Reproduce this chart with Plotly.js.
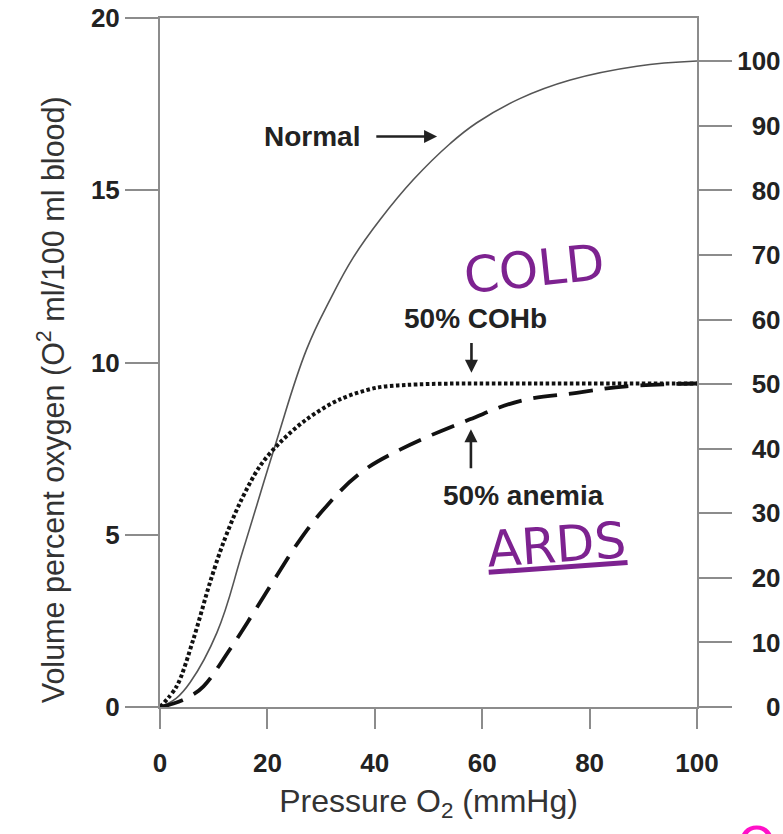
<!DOCTYPE html>
<html>
<head>
<meta charset="utf-8">
<script src="https://cdn.plot.ly/plotly-3.0.1.min.js"></script>
<style>html,body{margin:0;padding:0;background:#fff;}#chart{width:783px;height:834px;}</style>
</head>
<body>
<div id="chart"></div>
<script>
// Pressure O2 (mmHg) and volume percent oxygen for each curve
const normalX = [0, 3, 5.6, 10.6, 15.5, 21.4, 27.3, 31.7, 36, 41, 47.2, 54, 59, 67, 76.4, 88.8, 100];
const normalY = [0, 0.25, 0.71, 2.16, 4.57, 7.57, 10.38, 11.83, 13.05, 14.15, 15.31, 16.35, 16.96, 17.66, 18.2, 18.6, 18.75];

const cohbX = [0, 3.1, 6.2, 9.3, 11.8, 14.9, 18.6, 22.3, 27.3, 33.5, 40.4, 46, 55, 70, 85, 100];
const cohbY = [0, 0.6, 1.96, 3.61, 4.77, 5.93, 6.99, 7.67, 8.35, 8.93, 9.27, 9.35, 9.39, 9.39, 9.39, 9.39];

const anemiaX = [0, 2.5, 5.6, 8.1, 13, 17.4, 21.7, 26.1, 31, 37.2, 44.7, 57.7, 67, 77.6, 86.9, 100];
const anemiaY = [0, 0.1, 0.31, 0.6, 1.67, 2.73, 3.8, 4.86, 5.83, 6.78, 7.47, 8.35, 8.88, 9.12, 9.31, 9.39];

const xTicks = [0, 20, 40, 60, 80, 100];
const yTicks = [0, 5, 10, 15, 20];
const satTicks = [0, 10, 20, 30, 40, 50, 60, 70, 80, 90, 100];
const satLabels = ['\u2007\u20070', '\u200710', '\u200720', '\u200730', '\u200740', '\u200750', '\u200760', '\u200770', '\u200780', '\u200790', '100'];

const FONT = 'Liberation Sans, Arial, Helvetica, sans-serif';
const AXC = '#8c8c8c';

const traces = [
  {x: normalX, y: normalY, mode: 'lines', line: {color: '#555', width: 1.6, shape: 'spline', smoothing: 1.2}, hoverinfo: 'skip'},
  {x: cohbX, y: cohbY, mode: 'lines', line: {color: '#111', width: 4, dash: '3.5px,2.5px', shape: 'spline', smoothing: 0.9}, hoverinfo: 'skip'},
  {x: anemiaX, y: anemiaY, mode: 'lines', line: {color: '#111', width: 3.8, dash: '24px,12px', shape: 'spline', smoothing: 1.1}, hoverinfo: 'skip'},
  // empty trace so that the right-hand saturation axis is drawn
  {x: [], y: [], yaxis: 'y2', mode: 'lines', hoverinfo: 'skip'}
];

const tickFont = {family: FONT, size: 26, color: '#222', weight: 'bold'};
const annFont = {family: FONT, size: 28, color: '#222', weight: 'bold'};
const handFont = {family: 'DejaVu Sans, sans-serif', size: 50, color: '#7d2290'};

const arrow = (x, y, ax, ay) => ({x: x, y: y, ax: ax, ay: ay, xref: 'x', yref: 'y', axref: 'x', ayref: 'y', text: '', showarrow: true, arrowhead: 2, arrowsize: 1, arrowwidth: 2.6, arrowcolor: '#222'});

const layout = {
  width: 783, height: 834,
  margin: {l: 160, r: 86, t: 18, b: 127},
  paper_bgcolor: '#fff', plot_bgcolor: '#fff',
  showlegend: false,
  xaxis: {
    range: [0, 100], tickvals: xTicks, ticktext: xTicks.map(String),
    showgrid: false, zeroline: false, showline: true, mirror: true, linecolor: AXC, linewidth: 2,
    ticks: 'outside', ticklen: 20, tickwidth: 2, tickcolor: AXC, tickfont: tickFont, ticklabelstandoff: 12,
    title: {text: 'Pressure O<sub>2</sub> (mmHg)', font: {family: FONT, size: 32, color: '#333'}, standoff: 12}
  },
  yaxis: {
    range: [0, 20], tickvals: yTicks, ticktext: yTicks.map(String),
    showgrid: false, zeroline: false, showline: true, linecolor: AXC, linewidth: 2,
    ticks: 'outside', ticklen: 33, tickwidth: 2, tickcolor: AXC, tickfont: tickFont
  },
  yaxis2: {
    overlaying: 'y', side: 'right', anchor: 'x', range: [0, 106.7], tickvals: satTicks, ticktext: satLabels,
    showgrid: false, zeroline: false, showline: true, linecolor: AXC, linewidth: 2,
    ticks: 'outside', ticklen: 33, tickwidth: 2, tickcolor: AXC, tickfont: tickFont
  },
  annotations: [
    {xref: 'paper', yref: 'paper', x: -0.242, y: 0.446, text: 'Volume percent oxygen (O<sup>2</sup> ml/100 ml blood)', textangle: -90, showarrow: false, font: {family: FONT, size: 30.5, color: '#333'}},
    {x: 28.3, y: 16.56, xref: 'x', yref: 'y', text: 'Normal', showarrow: false, font: annFont},
    arrow(51.6, 16.56, 40.0, 16.56),
    {x: 58.7, y: 11.28, xref: 'x', yref: 'y', text: '50% COHb', showarrow: false, font: annFont},
    arrow(58.0, 9.70, 58.0, 10.61),
    {x: 67.6, y: 6.14, xref: 'x', yref: 'y', text: '50% anemia', showarrow: false, font: annFont},
    arrow(57.9, 8.06, 57.9, 6.89),
    {x: 69.8, y: 12.7, xref: 'x', yref: 'y', text: 'COLD', showarrow: false, textangle: -6, font: handFont},
    {x: 73.9, y: 4.69, xref: 'x', yref: 'y', text: '<u>ARDS</u>', showarrow: false, textangle: -4, font: handFont},
    {xref: 'paper', yref: 'paper', x: 1.07, y: -0.155, xanchor: 'left', yanchor: 'top', text: 'O', showarrow: false, font: {family: 'DejaVu Sans, sans-serif', size: 50, color: '#ff10c8'}}
  ]
};

Plotly.newPlot('chart', traces, layout, {staticPlot: true, displayModeBar: false});
</script>
</body>
</html>
